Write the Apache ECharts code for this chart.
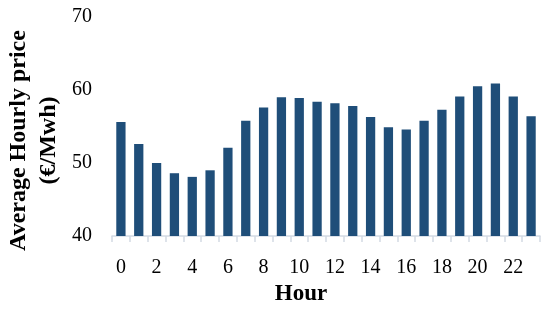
<!DOCTYPE html>
<html>
<head>
<meta charset="utf-8">
<script src="https://cdn.jsdelivr.net/npm/echarts@6/dist/echarts.min.js"></script>
<style>
  html, body { margin: 0; padding: 0; background: #fff; }
  #chart { width: 550px; height: 312px; }
</style>
</head>
<body>
<div id="chart"></div>
<script>
// hours 0..23
const hours = ["0", "1", "2", "3", "4", "5", "6", "7", "8", "9", "10", "11",
  "12", "13", "14", "15", "16", "17", "18", "19", "20", "21", "22", "23"];
// average hourly price (€/Mwh)
const prices = [55.6, 52.6, 50.0, 48.6, 48.1, 49.0, 52.1, 55.8, 57.6, 59.0, 58.9, 58.4,
  58.2, 57.8, 56.3, 54.9, 54.6, 55.8, 57.3, 59.1, 60.5, 60.9, 59.1, 56.4];

const fontFamily = "Liberation Serif";

const chart = echarts.init(document.getElementById("chart"));
chart.setOption({
  animation: false,
  grid: {
    left: 112,
    right: 10,
    top: 17,
    bottom: 76,
    outerBoundsMode: "none",
    containLabel: false,
  },
  xAxis: {
    type: "category",
    data: hours,
    name: "Hour",
    nameLocation: "middle",
    nameGap: 45,
    nameTextStyle: {
      fontFamily: fontFamily,
      fontWeight: "bold",
      fontSize: 23,
      color: "#000",
      padding: [0, 50, 0, 0],
    },
    axisLine: { lineStyle: { color: "#d3dae4", width: 1.5 } },
    axisTick: {
      show: true,
      interval: 0,
      length: 6,
      lineStyle: { color: "#d3dae4", width: 1.5 },
    },
    axisLabel: {
      interval: 1,
      margin: 22,
      fontFamily: fontFamily,
      fontSize: 20,
      color: "#000",
    },
  },
  yAxis: {
    type: "value",
    min: 40,
    max: 70,
    interval: 10,
    name: "Average Hourly price\n(€/Mwh)",
    nameLocation: "middle",
    nameGap: 48,
    nameMoveOverlap: false,
    nameTextStyle: {
      fontFamily: fontFamily,
      fontWeight: "bold",
      fontSize: 24,
      lineHeight: 30,
      color: "#000",
      padding: [0, 28, 0, 0],
    },
    axisLine: { show: false },
    axisTick: { show: false },
    splitLine: { show: false },
    axisLabel: {
      margin: 20,
      fontFamily: fontFamily,
      fontSize: 20,
      color: "#000",
    },
  },
  series: [
    {
      type: "bar",
      data: prices,
      barWidth: "52%",
      itemStyle: { color: "#1f4e79" },
    },
  ],
});
</script>
</body>
</html>
